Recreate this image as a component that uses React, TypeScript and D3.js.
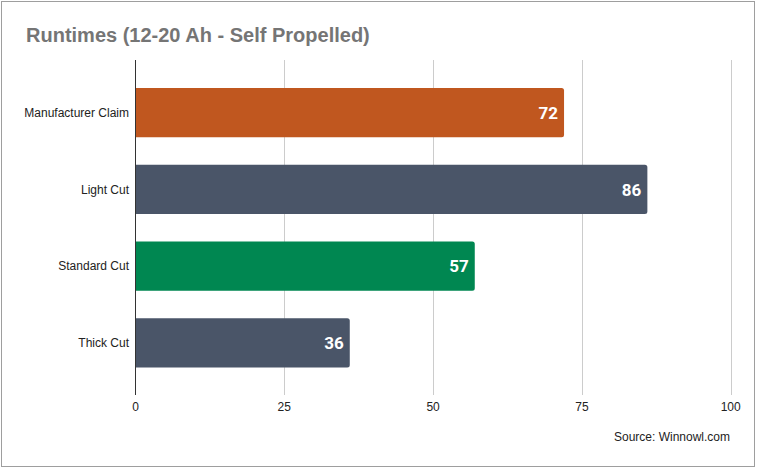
import React from "react";
import * as d3 from "d3";

const categories = ["Manufacturer Claim", "Light Cut", "Standard Cut", "Thick Cut"];
const values = [72, 86, 57, 36];
const barColors = ["#C0571F", "#4A5568", "#008751", "#4A5568"];
const xTicks = [0, 25, 50, 75, 100];
const title = "Runtimes (12-20 Ah - Self Propelled)";
const source = "Source: Winnowl.com";

const W = 757;
const H = 469;

function barPath(x0: number, x1: number, y0: number, h: number, r: number) {
  const p = d3.path();
  p.moveTo(x0, y0);
  p.lineTo(x1 - r, y0);
  p.arcTo(x1, y0, x1, y0 + r, r);
  p.lineTo(x1, y0 + h - r);
  p.arcTo(x1, y0 + h, x1 - r, y0 + h, r);
  p.lineTo(x0, y0 + h);
  p.closePath();
  return p.toString();
}

export default function App() {
  const x = d3.scaleLinear().domain([0, 100]).range([135.5, 730.7]);
  const y = d3.scaleBand<string>().domain(categories).range([60.5, 395]).paddingInner(0.36).paddingOuter(0.36);
  const font = "'Liberation Sans', Arial, sans-serif";
  return (
    <div style={{ position: "fixed", left: 0, top: 0 }}>
      <svg width={W} height={H} style={{ display: "block" }}>
        <rect x={0} y={0} width={W} height={H} fill="#fff" />
        <rect x={1.5} y={1.5} width={753} height={465} fill="none" stroke="#9e9e9e" strokeWidth={1} />
        <text x={26} y={42} fontFamily={font} fontWeight="bold" fontSize={20} fill="#757575">
          {title}
        </text>
        {xTicks.map((t) => (
          <g key={t}>
            {t !== 0 && (
              <line x1={Math.round(x(t)) + 0.5} x2={Math.round(x(t)) + 0.5} y1={60} y2={395} stroke="#cccccc" strokeWidth={1} />
            )}
            <text x={x(t)} y={411} textAnchor="middle" fontFamily={font} fontSize={12} fill="#222">
              {t}
            </text>
          </g>
        ))}
        {categories.map((c, i) => {
          const y0 = y(c)!;
          const h = y.bandwidth();
          const x1 = x(values[i]);
          return (
            <g key={c}>
              <path d={barPath(x(0), x1, y0, h, 2.5)} fill={barColors[i]} />
              <text x={129} y={y0 + h / 2} dy="0.35em" textAnchor="end" fontFamily={font} fontSize={12} fill="#222">
                {c}
              </text>
              <text x={x1 - 6} y={y0 + h / 2} dy="0.36em" textAnchor="end" fontFamily="Roboto, 'Open Sans', sans-serif" fontWeight="bold" fontSize={17} fill="#fff">
                {values[i]}
              </text>
            </g>
          );
        })}
        <line x1={135.5} x2={135.5} y1={60} y2={395} stroke="#333" strokeWidth={1} />
        <text x={730} y={441} textAnchor="end" fontFamily={font} fontSize={12} fill="#222">
          {source}
        </text>
      </svg>
    </div>
  );
}
